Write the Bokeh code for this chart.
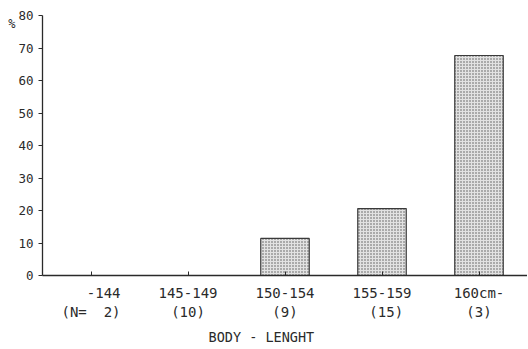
from bokeh.plotting import figure
from bokeh.models import FactorRange, Range1d, FixedTicker, LinearAxis, Title, ColumnDataSource
from bokeh.embed import file_html
from bokeh.resources import INLINE

NB = "\u00a0"
# category labels (two lines each): range + (N)
ranges = ["-144", "145-149", "150-154", "155-159", "160cm-"]
counts = ["(N=" + NB + NB + "2)", "(10)", "(9)", NB + "(15)", "(3)"]
percent = [0.0, 0.0, 11.4, 20.6, 67.7]
y_ticks = [0, 10, 20, 30, 40, 50, 60, 70, 80]
unit_label = "%"

factors = []
for r, c in zip(ranges, counts):
    pad = max(0, len(c) - len(r))
    factors.append(NB * pad + r + "\n" + c)

FONT = "DejaVu Sans Mono"
INK = "#2a2a2a"

p = figure(width=527, height=349, output_backend="svg", toolbar_location=None,
           x_range=FactorRange(*factors, range_padding=0),
           y_range=Range1d(0, 80),
           min_border_left=42, min_border_right=0, min_border_top=15, min_border_bottom=0)
p.outline_line_color = None
p.xgrid.visible = False
p.ygrid.visible = False
p.background_fill_color = "white"

src = ColumnDataSource(dict(x=factors, top=percent))
p.vbar(x="x", top="top", width=0.5, source=src,
       fill_color="#e2e2e2", line_color="#3a3a3a", line_width=1.2,
       hatch_pattern="dot", hatch_color="#555555", hatch_scale=3, hatch_weight=1)

# y axis
p.yaxis.ticker = FixedTicker(ticks=y_ticks)
p.yaxis.minor_tick_line_color = None
p.yaxis.major_tick_in = 0
p.yaxis.major_tick_out = 4
p.yaxis.major_label_standoff = 5
p.yaxis.axis_line_color = INK
p.yaxis.major_tick_line_color = INK
p.yaxis.axis_line_width = 1.3
p.yaxis.major_label_text_font = FONT
p.yaxis.major_label_text_font_size = "12.5px"
p.yaxis.major_label_text_color = INK

# "%" unit marker as an extra, line-less left axis
unit_axis = LinearAxis(ticker=FixedTicker(ticks=[77.5]),
                       major_label_overrides={77.5: unit_label},
                       axis_line_color=None, major_tick_line_color=None,
                       minor_tick_line_color=None, major_tick_in=0, major_tick_out=0,
                       major_label_standoff=0, major_label_text_font=FONT,
                       major_label_text_font_size="12px", major_label_text_color=INK)
p.add_layout(unit_axis, "left")

# x axis
p.xaxis.major_tick_in = 4
p.xaxis.major_tick_out = 0
p.xaxis.axis_line_color = INK
p.xaxis.major_tick_line_color = INK
p.xaxis.axis_line_width = 1.3
p.xaxis.major_label_text_font = FONT
p.xaxis.major_label_text_font_size = "14px"
p.xaxis.major_label_text_color = INK
p.xaxis.major_label_standoff = 9
p.xaxis.major_label_orientation = "horizontal"

title = Title(text="BODY - LENGHT", align="left", offset=166,
              text_font=FONT, text_font_size="13.5px", text_font_style="normal",
              text_color=INK, standoff=9)
p.add_layout(title, "below")

open("out.html", "w").write(file_html(p, INLINE))
